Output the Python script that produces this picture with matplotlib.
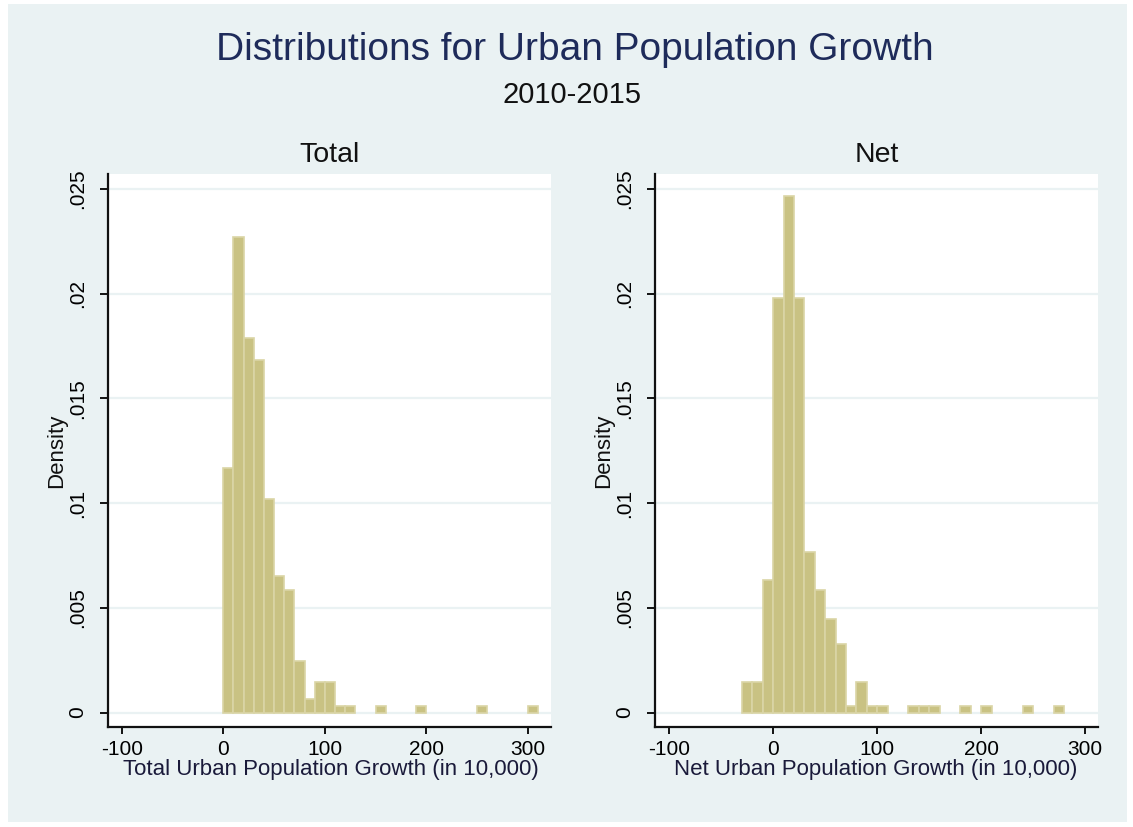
import matplotlib.pyplot as plt
from matplotlib.patches import Rectangle

plt.rcParams['font.family'] = ['Liberation Sans', 'DejaVu Sans']
plt.rcParams['axes.unicode_minus'] = False

# histogram bins (left edge, width 10) and density of each non-empty bin
bin_width = 10

total_bins = [0, 10, 20, 30, 40, 50, 60, 70, 80, 90, 100, 110, 120, 150, 190, 250, 300]
total_density = [0.01167, 0.0227, 0.01788, 0.01684, 0.01019, 0.00651, 0.00583,
                 0.00248, 0.00065, 0.00145, 0.00145, 0.00033, 0.00033,
                 0.00033, 0.00033, 0.00033, 0.00033]

net_bins = [-30, -20, -10, 0, 10, 20, 30, 40, 50, 60, 70, 80, 90, 100,
            130, 140, 150, 180, 200, 240, 270]
net_density = [0.00144, 0.00144, 0.00631, 0.01982, 0.02468, 0.01982, 0.00769,
               0.00585, 0.00445, 0.00329, 0.00033, 0.00144, 0.00033, 0.00033,
               0.00033, 0.00033, 0.00033, 0.00033, 0.00033, 0.00033, 0.00033]

x_ticks = [-100, 0, 100, 200, 300]
y_ticks = [0, 0.005, 0.01, 0.015, 0.02, 0.025]
y_ticklabels = ['0', '.005', '.01', '.015', '.02', '.025']

W, H = 1133, 827
BG = '#EAF2F3'
BAR = '#C9C283'
BAR_EDGE = '#DAD5A6'

fig = plt.figure(figsize=(W / 100, H / 100), dpi=100)
fig.patch.set_facecolor('white')
fig.add_artist(Rectangle((8 / W, 1 - 822 / H), (1127 - 8) / W, (822 - 4) / H,
                         transform=fig.transFigure, facecolor=BG,
                         edgecolor='none', zorder=-10))

fig.text(575 / W, 1 - 60 / H, 'Distributions for Urban Population Growth',
         ha='center', va='baseline', fontsize=28, color='#1E2B5A')
fig.text(572 / W, 1 - 103 / H, '2010-2015', ha='center', va='baseline',
         fontsize=21, color='#111111')


def draw_hist(rect, bins, density, xlim, title, xlabel, xlab_x):
    ax = fig.add_axes(rect)
    ax.set_facecolor('white')
    for y in y_ticks:
        ax.axhline(y, color=BG, lw=1.6, zorder=0)
    ax.bar(bins, density, width=bin_width, align='edge', color=BAR,
           edgecolor=BAR_EDGE, linewidth=1.2, zorder=2)
    ax.set_xlim(*xlim)
    ax.set_ylim(-0.00069, 0.02572)
    ax.set_xticks(x_ticks)
    ax.set_yticks(y_ticks)
    ax.set_yticklabels(y_ticklabels)
    ax.tick_params(axis='x', length=5, width=1.3, pad=4.5, labelsize=15)
    ax.tick_params(axis='y', length=6, width=1.3, pad=9, labelsize=15,
                   labelrotation=90)
    for lab in ax.get_yticklabels():
        lab.set_va('center')
    for side in ['top', 'right']:
        ax.spines[side].set_visible(False)
    for side in ['left', 'bottom']:
        ax.spines[side].set_linewidth(1.6)
        ax.spines[side].set_color('#111111')
    ax.text(-0.117, 0.5, 'Density', transform=ax.transAxes, rotation=90,
            ha='center', va='center', fontsize=16, color='#111111')
    ax.text(xlab_x, -48 / 553, xlabel, transform=ax.transAxes,
            ha='center', va='baseline', fontsize=16, color='#1A1A3A')
    ax.text(0.5, (727 - 162) / 553, title, transform=ax.transAxes,
            ha='center', va='baseline', fontsize=20.5, color='#111111')
    return ax


draw_hist([108 / W, 1 - 727 / H, 443 / W, 553 / H], total_bins, total_density,
          (-113.5, 322.6), 'Total', 'Total Urban Population Growth (in 10,000)',
          0.503)
draw_hist([655 / W, 1 - 727 / H, 443 / W, 553 / H], net_bins, net_density,
          (-113.8, 312.4), 'Net', 'Net Urban Population Growth (in 10,000)',
          0.498)

fig.savefig('out.png', dpi=100, facecolor=fig.get_facecolor())
